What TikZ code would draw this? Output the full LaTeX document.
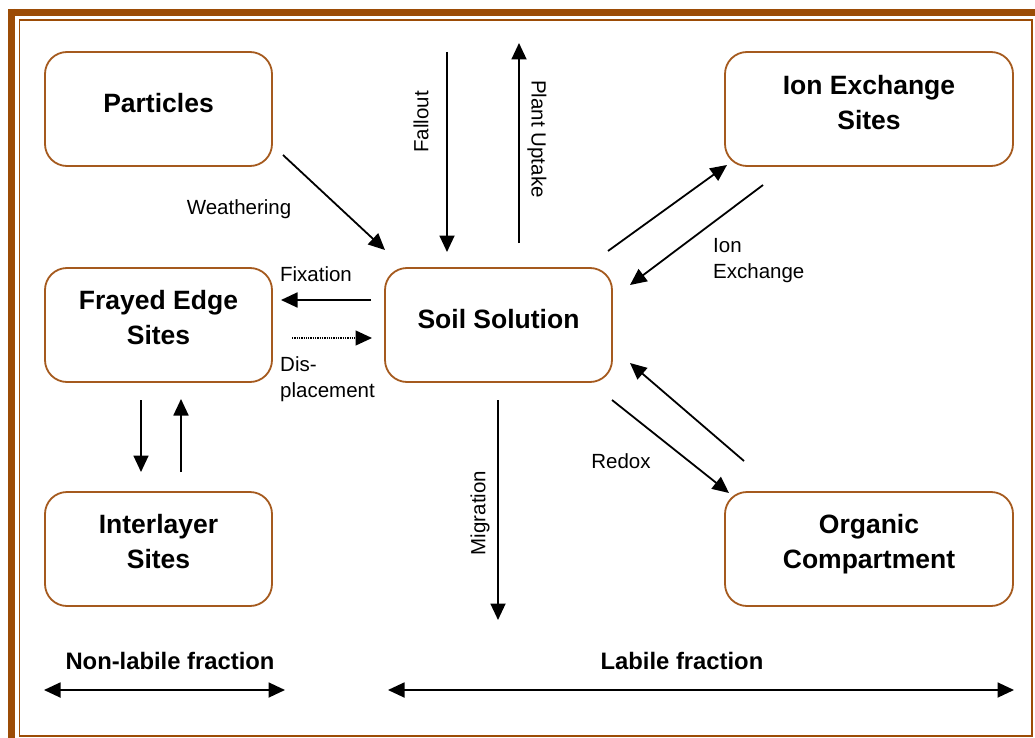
\documentclass[tikz,border=0pt]{standalone}
\usepackage{fontspec}
\setmainfont{Liberation Sans}
\usetikzlibrary{arrows.meta}
\definecolor{brn}{RGB}{156,76,6}
\definecolor{boxbrn}{RGB}{165,90,30}
\tikzset{
  box/.style={draw=boxbrn, line width=1.8pt, rounded corners=22pt, minimum width=227pt, minimum height=114pt, inner sep=0pt},
  bigbox/.style={box, minimum width=288pt},
  boxtxt/.style={align=center, font=\fontsize{26.5}{35}\selectfont\bfseries, inner sep=0pt},
  lbl/.style={font=\fontsize{20.5}{26}\selectfont, inner sep=0pt},
  blbl/.style={font=\fontsize{23.8}{28}\selectfont\bfseries, inner sep=0pt},
  tip/.style={Triangle[length=16.5pt,width=15pt]},
  arr/.style={line width=1.8pt, -{Triangle[length=16.5pt,width=15pt]}},
  darr/.style={line width=1.8pt, {Triangle[length=16.5pt,width=15pt]}-{Triangle[length=16.5pt,width=15pt]}},
  dotarr/.style={line width=1.3pt, densely dotted, -{Triangle[length=16.5pt,width=15pt]}}
}
\begin{document}
\begin{tikzpicture}[x=1pt,y=-1pt]
\useasboundingbox (0,0) rectangle (1035,738);
\fill[white] (0,0) rectangle (1035,738);
% frame
\draw[brn, line width=7pt] (8,12.5) -- (1035,12.5);
\draw[brn, line width=7pt] (11.5,9) -- (11.5,738);
\draw[brn, line width=1.6pt] (19.3,20.3) rectangle (1032.2,736);
% boxes
\node[box] (part) at (158.5,109) {};
\node[bigbox] (ion) at (869,109) {};
\node[box] (fray) at (158.5,325) {};
\node[box] (soil) at (498.5,325) {};
\node[box] (inter) at (158.5,549) {};
\node[bigbox] (org) at (869,549) {};
\node[boxtxt] (partt) at ([yshift=5.5pt]part.center) {Particles};
\node[boxtxt] (iont) at ([yshift=6.5pt]ion.center) {Ion Exchange\\Sites};
\node[boxtxt] (frayt) at ([yshift=7pt]fray.center) {Frayed Edge\\Sites};
\node[boxtxt] (soilt) at ([yshift=5.5pt]soil.center) {Soil Solution};
\node[boxtxt] (intert) at ([yshift=7pt]inter.center) {Interlayer\\Sites};
\node[boxtxt] (orgt) at ([yshift=5pt]org.center) {Organic\\Compartment};
% coordinates
\coordinate (w1) at (283,155); \coordinate (w2) at (385,250);
\coordinate (f1) at (447,52); \coordinate (f2) at (447,252);
\coordinate (p1) at (519,243); \coordinate (p2) at (519,43);
\coordinate (i1) at (608,251); \coordinate (i2) at (727,165);
\coordinate (i3) at (763,185); \coordinate (i4) at (630,285);
\coordinate (x1) at (371,300); \coordinate (x2) at (281,300);
\coordinate (d1) at (292,338); \coordinate (d2) at (372,338);
\coordinate (a1) at (141,400); \coordinate (a2) at (141,472);
\coordinate (b1) at (181,472); \coordinate (b2) at (181,399);
\coordinate (m1) at (498,400); \coordinate (m2) at (498,620);
\coordinate (r1) at (612,400); \coordinate (r2) at (729,493);
\coordinate (r3) at (744,461); \coordinate (r4) at (630,363);
\coordinate (n1) at (44,690); \coordinate (n2) at (285,690);
\coordinate (l1) at (388,690); \coordinate (l2) at (1014,690);
% arrows
\draw[arr] (w1) -- (w2);
\draw[arr] (f1) -- (f2);
\draw[arr] (p1) -- (p2);
\draw[arr] (i1) -- (i2);
\draw[arr] (i3) -- (i4);
\draw[arr] (x1) -- (x2);
\draw[dotarr] (d1) -- (d2);
\draw[arr] (a1) -- (a2);
\draw[arr] (b1) -- (b2);
\draw[arr] (m1) -- (m2);
\draw[arr] (r1) -- (r2);
\draw[arr] (r3) -- (r4);
\draw[darr] (n1) -- (n2);
\draw[darr] (l1) -- (l2);
% labels
\node[lbl] (lw) at (239,209) {Weathering};
\node[lbl, rotate=90] (lf) at (421,122) {Fallout};
\node[lbl, rotate=-90] (lp) at (537,139) {Plant Uptake};
\node[lbl, anchor=west, align=left] (li) at (713,261) {Ion\\Exchange};
\node[lbl, anchor=west, align=left] (ld) at (280,379) {Dis-\\placement};
\node[lbl] (lx) at (316,274) {Fixation};
\node[lbl, rotate=90] (lm) at (480,513) {Migration};
\node[lbl] (lr) at (621,461) {Redox};
\node[blbl] (ln) at (170,661) {Non-labile fraction};
\node[blbl] (ll) at (682,661) {Labile fraction};
\end{tikzpicture}
\end{document}
